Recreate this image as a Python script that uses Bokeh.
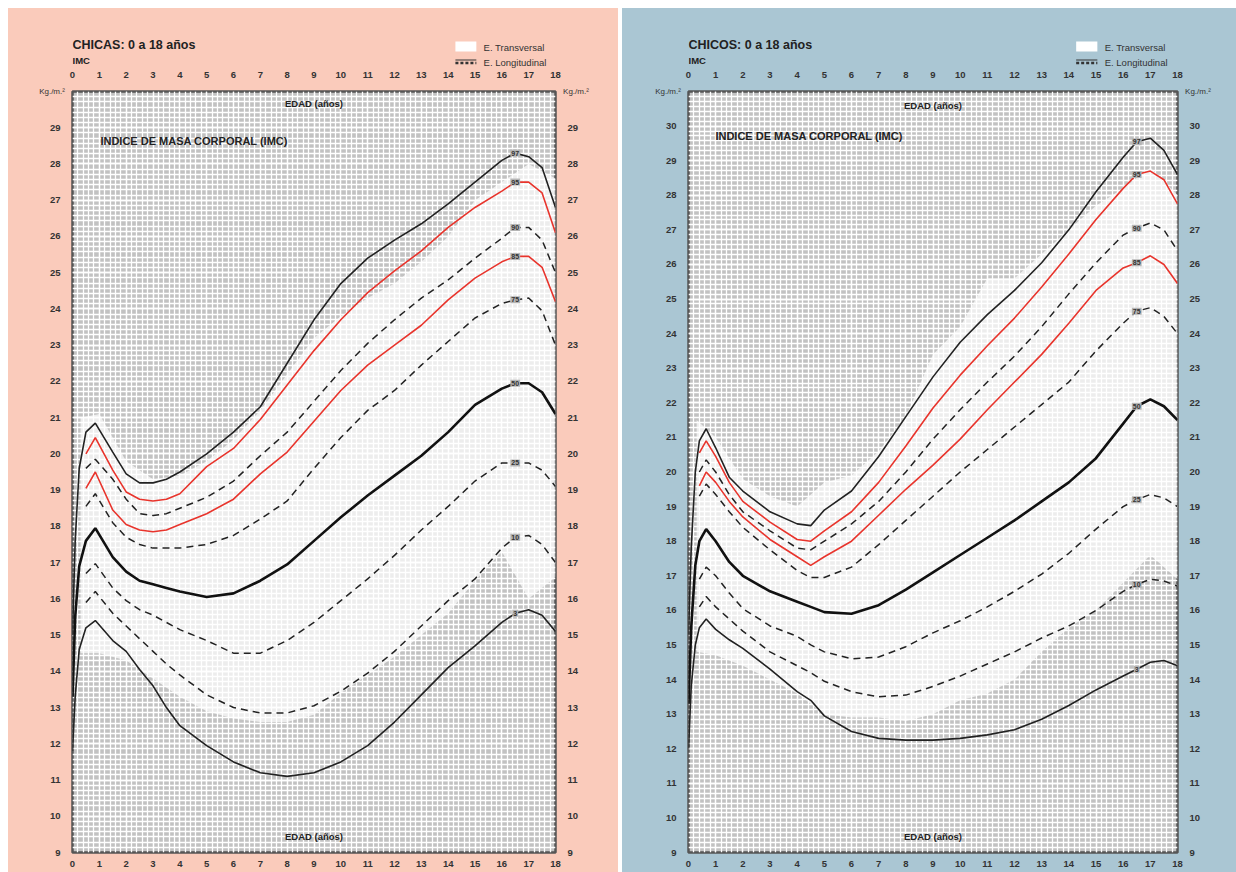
from bokeh.plotting import figure
from bokeh.layouts import row, column
from bokeh.models import FixedTicker, LinearAxis, ColumnDataSource, Spacer
from bokeh.core.properties import value
from bokeh.embed import file_html
from bokeh.resources import INLINE

nan = float("nan")
FONT = "Liberation Sans"

# ---------------- data: girls (CHICAS) ----------------
girls_age = [0, 0.1, 0.25, 0.5, 0.85, 1.5, 2, 2.5, 3, 3.5, 4, 5, 6, 7, 8, 9, 10, 11, 12, 13, 14, 15, 16, 16.5, 17, 17.5, 18]
girls_p97 = [15.0, 17.6, 19.6, 20.6, 20.85, 20.05, 19.45, 19.2, 19.2, 19.3, 19.5, 20.0, 20.6, 21.3, 22.5, 23.7, 24.7, 25.4, 25.9, 26.35, 26.9, 27.5, 28.1, 28.3, 28.2, 27.9, 26.8]
girls_p95 = [nan, nan, nan, 20.0, 20.45, 19.55, 18.95, 18.75, 18.7, 18.75, 18.9, 19.65, 20.15, 20.95, 21.9, 22.85, 23.7, 24.45, 25.05, 25.6, 26.25, 26.8, 27.25, 27.5, 27.5, 27.2, 26.1]
girls_p90 = [nan, nan, nan, 19.6, 19.85, 19.3, 18.75, 18.35, 18.3, 18.35, 18.5, 18.8, 19.25, 19.95, 20.6, 21.45, 22.3, 23.05, 23.7, 24.3, 24.8, 25.4, 25.95, 26.25, 26.25, 25.9, 25.0]
girls_p85 = [nan, nan, nan, 19.05, 19.5, 18.45, 18.05, 17.9, 17.85, 17.9, 18.05, 18.35, 18.75, 19.45, 20.05, 20.9, 21.75, 22.45, 23.0, 23.55, 24.25, 24.85, 25.3, 25.45, 25.45, 25.15, 24.2]
girls_p75 = [nan, nan, nan, 18.55, 18.9, 18.1, 17.7, 17.5, 17.4, 17.4, 17.4, 17.5, 17.75, 18.2, 18.7, 19.6, 20.45, 21.2, 21.75, 22.45, 23.1, 23.75, 24.15, 24.25, 24.3, 23.95, 23.0]
girls_p50 = [13.3, 15.5, 16.9, 17.6, 17.95, 17.15, 16.75, 16.5, 16.4, 16.3, 16.2, 16.05, 16.15, 16.5, 16.95, 17.6, 18.25, 18.85, 19.4, 19.95, 20.6, 21.35, 21.8, 21.95, 21.95, 21.7, 21.1]
girls_p25 = [nan, nan, nan, 16.7, 16.97, 16.3, 15.95, 15.7, 15.55, 15.35, 15.15, 14.85, 14.5, 14.5, 14.85, 15.35, 15.95, 16.55, 17.2, 17.9, 18.55, 19.25, 19.75, 19.75, 19.75, 19.55, 19.1]
girls_p10 = [nan, nan, nan, 15.9, 16.2, 15.6, 15.25, 14.9, 14.55, 14.2, 13.9, 13.35, 13.0, 12.85, 12.85, 13.05, 13.45, 13.95, 14.55, 15.25, 15.95, 16.55, 17.4, 17.7, 17.75, 17.5, 17.0]
girls_p3 = [11.8, 13.3, 14.6, 15.2, 15.4, 14.85, 14.55, 14.05, 13.6, 13.0, 12.5, 11.95, 11.5, 11.2, 11.1, 11.2, 11.5, 11.95, 12.6, 13.35, 14.1, 14.7, 15.35, 15.6, 15.7, 15.55, 15.1]

girls_t_age = [0.3, 1, 2, 3, 4, 5, 6, 7, 8, 9, 10, 11, 12, 13, 14, 15, 16, 17, 18]
girls_t_upper = [21.0, 21.1, 19.8, 19.3, 19.4, 19.8, 20.4, 21.2, 22.2, 23.2, 23.8, 24.3, 24.7, 25.3, 26.0, 27.0, 27.5, 28.0, 27.6]
girls_t_lower = [14.5, 14.5, 14.3, 13.8, 13.3, 12.9, 12.7, 12.6, 12.6, 12.8, 13.4, 13.9, 14.4, 15.0, 15.6, 16.5, 17.3, 16.0, 16.6]

# ---------------- data: boys (CHICOS) ----------------
boys_age = [0, 0.1, 0.25, 0.4, 0.65, 1, 1.5, 2, 3, 4, 4.5, 5, 6, 7, 8, 9, 10, 11, 12, 13, 14, 15, 16, 16.5, 17, 17.5, 18]
boys_p97 = [15.3, 17.8, 20.0, 20.9, 21.25, 20.7, 19.85, 19.45, 18.85, 18.5, 18.45, 18.9, 19.45, 20.45, 21.6, 22.75, 23.75, 24.55, 25.25, 26.05, 27.0, 28.1, 29.1, 29.55, 29.65, 29.3, 28.6]
boys_p95 = [nan, nan, nan, 20.55, 20.9, 20.45, 19.7, 19.15, 18.55, 18.05, 18.0, 18.3, 18.85, 19.7, 20.75, 21.85, 22.8, 23.65, 24.45, 25.35, 26.3, 27.3, 28.2, 28.6, 28.7, 28.45, 27.75]
boys_p90 = [nan, nan, nan, 20.0, 20.35, 20.0, 19.35, 18.85, 18.3, 17.8, 17.75, 18.0, 18.5, 19.15, 20.0, 20.95, 21.8, 22.6, 23.35, 24.2, 25.15, 26.05, 26.85, 27.05, 27.2, 27.0, 26.4]
boys_p85 = [nan, nan, nan, 19.6, 20.0, 19.7, 19.15, 18.7, 18.05, 17.55, 17.3, 17.55, 18.0, 18.75, 19.5, 20.2, 20.95, 21.8, 22.6, 23.4, 24.3, 25.25, 25.9, 26.05, 26.25, 26.0, 25.45]
boys_p75 = [nan, nan, nan, 19.3, 19.65, 19.35, 18.85, 18.4, 17.75, 17.15, 16.95, 16.95, 17.25, 17.9, 18.6, 19.3, 20.0, 20.65, 21.3, 21.95, 22.6, 23.5, 24.3, 24.65, 24.75, 24.5, 24.0]
boys_p50 = [13.3, 15.5, 17.3, 18.0, 18.35, 18.0, 17.4, 17.0, 16.55, 16.25, 16.1, 15.95, 15.9, 16.15, 16.6, 17.1, 17.6, 18.1, 18.6, 19.15, 19.7, 20.4, 21.4, 21.9, 22.1, 21.9, 21.5]
boys_p25 = [nan, nan, nan, 16.9, 17.25, 17.0, 16.5, 16.05, 15.55, 15.25, 15.0, 14.8, 14.6, 14.65, 14.95, 15.35, 15.7, 16.1, 16.55, 17.05, 17.65, 18.35, 19.0, 19.2, 19.35, 19.25, 19.0]
boys_p10 = [nan, nan, nan, 16.1, 16.4, 16.1, 15.75, 15.4, 14.8, 14.4, 14.2, 13.95, 13.65, 13.5, 13.55, 13.8, 14.1, 14.45, 14.8, 15.2, 15.55, 16.0, 16.55, 16.75, 16.9, 16.85, 16.7]
boys_p3 = [12.0, 13.8, 15.0, 15.5, 15.75, 15.45, 15.15, 14.9, 14.3, 13.65, 13.4, 12.95, 12.5, 12.3, 12.25, 12.25, 12.3, 12.4, 12.55, 12.85, 13.25, 13.7, 14.1, 14.3, 14.5, 14.55, 14.4]

boys_t_age = [0.3, 1, 2, 3, 4, 5, 6, 7, 8, 9, 10, 11, 12, 13, 14, 15, 16, 17, 18]
boys_t_upper = [21.5, 21.0, 19.8, 19.3, 19.0, 19.7, 19.9, 20.6, 21.6, 23.4, 24.2, 25.6, 25.6, 26.3, 27.0, 27.7, 28.2, 28.8, 28.0]
boys_t_lower = [14.8, 14.7, 14.4, 14.0, 13.6, 13.0, 12.9, 12.9, 12.8, 13.0, 13.4, 13.6, 14.0, 14.8, 15.5, 16.0, 16.8, 17.6, 16.9]

percentile_names = ["97", "95", "90", "85", "75", "50", "25", "10", "3"]
x_ticks = list(range(0, 19))
label_age = 16.5
UNIT_LABEL = "Kg./m.\u00b2"

RED = "#e8342c"
styles = {
    "97": dict(line_color="#222222", line_width=1.6),
    "95": dict(line_color=RED, line_width=1.6),
    "90": dict(line_color="#222222", line_width=1.5, line_dash="7 5"),
    "85": dict(line_color=RED, line_width=1.6),
    "75": dict(line_color="#222222", line_width=1.5, line_dash="7 5"),
    "50": dict(line_color="#111111", line_width=2.6),
    "25": dict(line_color="#222222", line_width=1.5, line_dash="7 5"),
    "10": dict(line_color="#222222", line_width=1.5, line_dash="7 5"),
    "3": dict(line_color="#222222", line_width=1.6),
}

HAS_ALIGN = "axis_label_align" in LinearAxis.properties()
HEAD_H = 60


def make_header(title, width, bl, br):
    h = figure(width=width, height=HEAD_H, x_range=(0, 18), y_range=(HEAD_H, 0),
               output_backend="svg", toolbar_location=None,
               x_axis_location=None, y_axis_location=None,
               min_border_left=bl, min_border_right=br, min_border_top=0, min_border_bottom=0)
    h.grid.visible = False
    h.outline_line_color = None
    h.background_fill_alpha = 0
    h.border_fill_alpha = 0

    def txt(x, y, t, size, bold=True, align="left", color="#222222"):
        h.text(x=[x], y=[y], text=[t], text_font=value(FONT), text_font_size=size,
               text_font_style="bold" if bold else "normal", text_color=color,
               text_align=align, text_baseline="middle")

    txt(0, 36, title, "12.5px")
    txt(0, 52, "IMC", "9.5px")
    h.quad(left=[14.27], right=[15.05], top=[33], bottom=[43], fill_color="white", line_color=None)
    h.line([14.27, 15.05], [54.5, 54.5], line_color="#333333", line_width=2.6, line_dash="3 2")
    h.line([14.27, 15.05], [51.5, 51.5], line_color="#333333", line_width=1)
    txt(15.32, 38.5, "E. Transversal", "9.5px", bold=False, color="#333333")
    txt(15.32, 54, "E. Longitudinal", "9.5px", bold=False, color="#333333")
    if not HAS_ALIGN:
        txt(-0.2, 56, UNIT_LABEL, "8px", bold=False, align="right", color="#333333")
        txt(18.3, 56, UNIT_LABEL, "8px", bold=False, align="left", color="#333333")
    return h


def make_panel(ages, series, t_age, t_up, t_lo, y_max, y_ticks, bg, width, bl, br, pos):
    p = figure(width=width, height=804, x_range=(0, 18), y_range=(9, y_max),
               output_backend="svg", toolbar_location=None,
               min_border_left=bl, min_border_right=br,
               min_border_top=22, min_border_bottom=20)
    p.border_fill_color = bg
    p.background_fill_color = "#c2c2c2"
    p.outline_line_color = "#555555"
    p.outline_line_width = 2.5

    minor_x = [i * 0.2 for i in range(0, 91)]
    minor_y = [9 + k / 7 for k in range(0, (y_max - 9) * 7 + 1)]
    p.xgrid.ticker = FixedTicker(ticks=x_ticks, minor_ticks=minor_x)
    p.ygrid.ticker = FixedTicker(ticks=list(range(9, y_max + 1)), minor_ticks=minor_y)
    for g in (p.xgrid, p.ygrid):
        g.grid_line_color = "white"
        g.grid_line_width = 1.3
        g.minor_grid_line_color = "white"
        g.minor_grid_line_width = 1.3

    def style_axis(ax, ticks, standoff):
        ax.ticker = FixedTicker(ticks=ticks)
        ax.axis_line_color = None
        ax.major_tick_line_color = None
        ax.minor_tick_line_color = None
        ax.major_label_text_font = FONT
        ax.major_label_text_font_size = "9.5px"
        ax.major_label_text_font_style = "bold"
        ax.major_label_text_color = "#333333"
        ax.major_label_standoff = standoff

    style_axis(p.xaxis[0], x_ticks, 2)
    style_axis(p.yaxis[0], y_ticks, 6)
    top = LinearAxis()
    style_axis(top, x_ticks, 8)
    p.add_layout(top, "above")
    right = LinearAxis()
    style_axis(right, y_ticks, 6)
    p.add_layout(right, "right")

    if HAS_ALIGN:
        for ax in (p.yaxis[0], right):
            ax.axis_label = UNIT_LABEL
            ax.axis_label_orientation = "horizontal"
            ax.axis_label_align = "end"
            ax.axis_label_standoff = -18
            ax.axis_label_text_font = FONT
            ax.axis_label_text_font_size = "8px"
            ax.axis_label_text_font_style = "normal"
            ax.axis_label_text_color = "#333333"

    p.varea(x=t_age, y1=t_lo, y2=t_up, fill_color="white", fill_alpha=0.7)

    for name in percentile_names:
        p.line(ages, series[name], **styles[name])

    idx = ages.index(label_age)
    src = ColumnDataSource(dict(x=[label_age] * len(percentile_names),
                                y=[series[n][idx] for n in percentile_names],
                                t=percentile_names))
    p.text(x="x", y="y", text="t", source=src, text_font=value(FONT),
           text_font_size="7px", text_font_style="bold", text_color="#333333",
           text_align="center", text_baseline="middle",
           background_fill_color="#b5b5b5", padding=1)

    def txt(x, y, t, size, align):
        p.text(x=[x], y=[y], text=[t], text_font=value(FONT), text_font_size=size,
               text_font_style="bold", text_color="#222222",
               text_align=align, text_baseline="middle")

    txt(9, pos["edad_top"], "EDAD (años)", "9.5px", "center")
    txt(9, pos["edad_bot"], "EDAD (años)", "9.5px", "center")
    txt(pos["imc_x"], pos["imc_y"], "INDICE DE MASA CORPORAL (IMC)", "11px", "left")
    return p


girls_series = dict(zip(percentile_names, [girls_p97, girls_p95, girls_p90, girls_p85, girls_p75,
                                           girls_p50, girls_p25, girls_p10, girls_p3]))
boys_series = dict(zip(percentile_names, [boys_p97, boys_p95, boys_p90, boys_p85, boys_p75,
                                          boys_p50, boys_p25, boys_p10, boys_p3]))

GIRL_BG = "#facbbb"
BOY_BG = "#aac6d3"
h1 = make_header("CHICAS: 0 a 18 años", 610, 64, 63)
p1 = make_panel(girls_age, girls_series, girls_t_age, girls_t_upper, girls_t_lower,
                30, list(range(9, 30)), GIRL_BG, 610, 64, 63,
                dict(edad_top=29.67, edad_bot=9.44, imc_x=1.04, imc_y=28.64))
h2 = make_header("CHICOS: 0 a 18 años", 614, 66, 59)
p2 = make_panel(boys_age, boys_series, boys_t_age, boys_t_upper, boys_t_lower,
                31, list(range(9, 31)), BOY_BG, 614, 66, 59,
                dict(edad_top=30.6, edad_bot=9.46, imc_x=0.99, imc_y=29.71))

left_col = column(h1, p1, spacing=0, styles={"background-color": GIRL_BG})
right_col = column(h2, p2, spacing=0, styles={"background-color": BOY_BG})
layout = column(Spacer(height=8),
                row(Spacer(width=8), left_col, Spacer(width=4), right_col, spacing=0),
                spacing=0)
open("out.html", "w").write(file_html(layout, INLINE))
